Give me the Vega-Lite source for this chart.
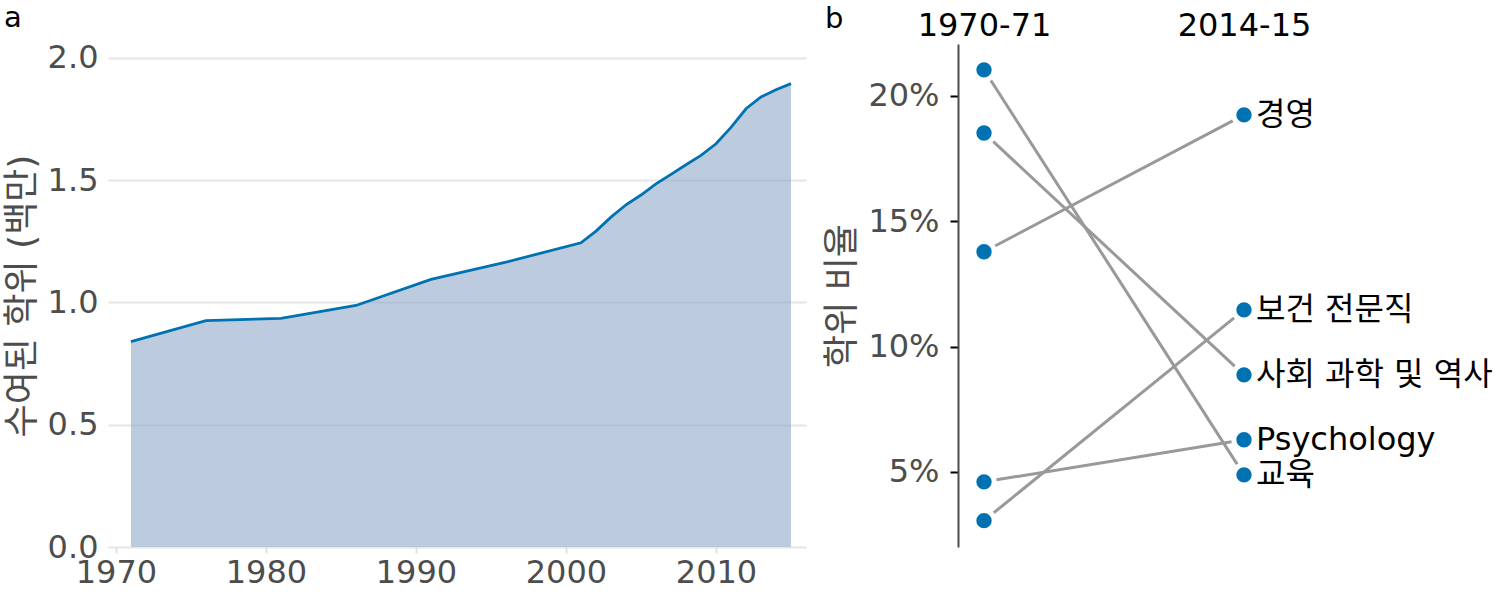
{
  "$schema": "https://vega.github.io/schema/vega-lite/v6.json",
  "background": "white",
  "padding": {"left": 4, "top": 3, "right": 0, "bottom": 12},
  "config": {
    "font": "DejaVu Sans, Noto Sans CJK KR",
    "view": {"stroke": null},
    "title": {"fontSize": 29, "fontWeight": "normal", "color": "black", "anchor": "start", "frame": "bounds"},
    "axis": {"labelFont": "DejaVu Sans, Noto Sans CJK KR", "titleFont": "DejaVu Sans, Noto Sans CJK KR", "labelColor": "#4d4d4d", "titleColor": "#4d4d4d", "labelFontSize": 32, "titleFontSize": 36, "titleFontWeight": "normal"}
  },
  "spacing": 18,
  "hconcat": [
    {
      "title": {"text": "a", "offset": 9},
      "width": 698,
      "height": 503,
      "data": {"values": [
        {"year": 1971, "degrees": 0.8397},
        {"year": 1976, "degrees": 0.9257},
        {"year": 1981, "degrees": 0.9351},
        {"year": 1986, "degrees": 0.9878},
        {"year": 1991, "degrees": 1.0945},
        {"year": 1996, "degrees": 1.1648},
        {"year": 2001, "degrees": 1.2442},
        {"year": 2002, "degrees": 1.2919},
        {"year": 2003, "degrees": 1.3488},
        {"year": 2004, "degrees": 1.3995},
        {"year": 2005, "degrees": 1.4393},
        {"year": 2006, "degrees": 1.4852},
        {"year": 2007, "degrees": 1.5241},
        {"year": 2008, "degrees": 1.5631},
        {"year": 2009, "degrees": 1.6014},
        {"year": 2010, "degrees": 1.6490},
        {"year": 2011, "degrees": 1.7161},
        {"year": 2012, "degrees": 1.7922},
        {"year": 2013, "degrees": 1.8404},
        {"year": 2014, "degrees": 1.8698},
        {"year": 2015, "degrees": 1.8949}
      ]},
      "encoding": {
        "x": {"field": "year", "type": "quantitative",
          "scale": {"domain": [1969.47, 2016], "nice": false, "zero": false},
          "axis": {"values": [1970, 1980, 1990, 2000, 2010], "format": "d", "title": null, "grid": false, "domain": false, "ticks": true, "tickColor": "#e0e0e0", "tickWidth": 2, "tickSize": 6, "labelPadding": 4}},
        "y": {"field": "degrees", "type": "quantitative",
          "scale": {"domain": [0, 2.057], "nice": false},
          "axis": {"values": [0, 0.5, 1, 1.5, 2], "format": ".1f", "title": "수여된 학위 (백만)", "grid": true, "gridColor": "#e5e5e5", "gridWidth": 2, "domain": false, "ticks": false, "labelPadding": 10, "titlePadding": 6}}
      },
      "layer": [
        {"mark": {"type": "area", "color": "#8FAAC8", "fillOpacity": 0.6}},
        {"mark": {"type": "line", "color": "#0072B2", "strokeWidth": 2.8}}
      ]
    },
    {
      "title": {"text": "b", "offset": -25},
      "width": 540,
      "height": 503,
      "data": {"values": [
        {"period": 0, "field": "교육", "pct": 21.04, "label": ""},
        {"period": 1, "field": "교육", "pct": 4.88, "label": "교육"},
        {"period": 0, "field": "사회 과학 및 역사", "pct": 18.52, "label": ""},
        {"period": 1, "field": "사회 과학 및 역사", "pct": 8.87, "label": "사회 과학 및 역사"},
        {"period": 0, "field": "경영", "pct": 13.78, "label": ""},
        {"period": 1, "field": "경영", "pct": 19.24, "label": "경영"},
        {"period": 0, "field": "Psychology", "pct": 4.6, "label": ""},
        {"period": 1, "field": "Psychology", "pct": 6.28, "label": "Psychology"},
        {"period": 0, "field": "보건 전문직", "pct": 3.05, "label": ""},
        {"period": 1, "field": "보건 전문직", "pct": 11.46, "label": "보건 전문직"}
      ]},
      "encoding": {
        "x": {"field": "period", "type": "quantitative",
          "scale": {"domain": [-0.1, 1.977], "nice": false, "zero": false},
          "axis": {"orient": "top", "values": [0, 1], "labelExpr": "datum.value == 0 ? '1970-71' : '2014-15'", "title": null, "grid": false, "domain": false, "ticks": false, "labelColor": "black", "labelFontSize": 32, "labelPadding": 2}},
        "y": {"field": "pct", "type": "quantitative",
          "scale": {"domain": [2.0, 22.07], "nice": false, "zero": false},
          "axis": {"values": [5, 10, 15, 20], "labelExpr": "datum.value + '%'", "title": "학위 비율", "grid": false, "domain": true, "domainColor": "#4d4d4d", "domainWidth": 2, "ticks": true, "tickColor": "black", "tickWidth": 2, "tickSize": 8, "labelPadding": 11, "titlePadding": 6}}
      },
      "layer": [
        {"mark": {"type": "line", "color": "#999999", "strokeWidth": 3}, "encoding": {"detail": {"field": "field"}}},
        {"mark": {"type": "point", "filled": true, "fill": "#0072B2", "stroke": "white", "strokeWidth": 5, "strokeOpacity": 1, "opacity": 1, "size": 415}},
        {"mark": {"type": "text", "align": "left", "baseline": "middle", "dx": 12, "fontSize": 32, "color": "black", "font": "DejaVu Sans, Noto Sans CJK KR"}, "encoding": {"text": {"field": "label"}}}
      ]
    }
  ]
}
